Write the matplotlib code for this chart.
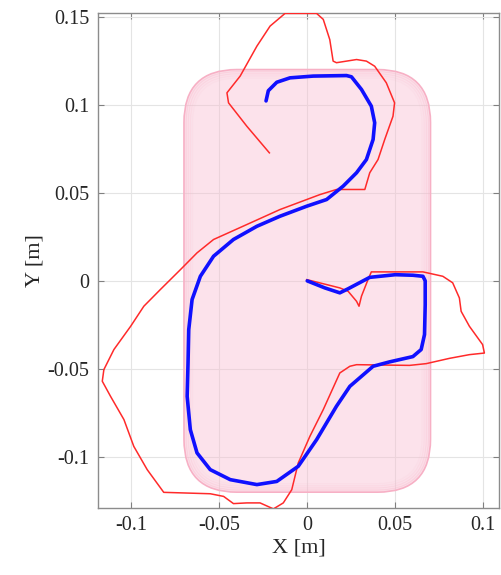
import matplotlib

matplotlib.use("Agg")

from matplotlib import patches
from matplotlib import pyplot as plt

# reachable area of the robot base (rounded rectangle, metres)
region_x = (-0.07, 0.07)
region_y = (-0.12, 0.12)
region_radius = 0.03

# commanded trajectory (blue)
blue_x = [-0.0234, -0.0221, -0.0173, -0.0098, 0.0034, 0.0223, 0.0251, 0.0308, 0.0364,
          0.0383, 0.0374, 0.0336, 0.0280, 0.0204, 0.0110, -0.0003, -0.0155, -0.0286,
          -0.0419, -0.0532, -0.0607, -0.0654, -0.0673, -0.0677, -0.0682, -0.0664,
          -0.0626, -0.0551, -0.0437, -0.0286, -0.0173, -0.0051, 0.0053, 0.0166,
          0.0242, 0.0374, 0.0468, 0.0600, 0.0647, 0.0666, 0.0670, 0.0670, 0.0657,
          0.0600, 0.0500, 0.0355, 0.0232, 0.0185, 0.0100, 0.0000]
blue_y = [0.1022, 0.1080, 0.1128, 0.1153, 0.1163, 0.1166, 0.1159, 0.1087, 0.0992,
          0.0898, 0.0803, 0.0689, 0.0614, 0.0538, 0.0462, 0.0424, 0.0367, 0.0310,
          0.0235, 0.0140, 0.0026, -0.0106, -0.0277, -0.0466, -0.0656, -0.0845,
          -0.0977, -0.1072, -0.1129, -0.1157, -0.1139, -0.1053, -0.0902, -0.0712,
          -0.0599, -0.0485, -0.0460, -0.0430, -0.0390, -0.0305, -0.0135, 0.0000,
          0.0026, 0.0032, 0.0035, 0.0020, -0.0045, -0.0068, -0.0040, 0.0000]

# measured trajectory (red)
red_x = [-0.0215, -0.0343, -0.0447, -0.0456, -0.0381, -0.0286, -0.0211, -0.0126, 0.0053,
         0.0091, 0.0128, 0.0147, 0.0166, 0.0280, 0.0336, 0.0383, 0.0449, 0.0496, 0.0487,
         0.0440, 0.0402, 0.0355, 0.0327, 0.0166, 0.0072, -0.0155, -0.0343, -0.0532,
         -0.0626, -0.0720, -0.0834, -0.0928, -0.1003, -0.1098, -0.1155, -0.1164,
         -0.1117, -0.1041, -0.0985, -0.0909, -0.0815, -0.0551, -0.0475, -0.0419,
         -0.0343, -0.0268, -0.0192, -0.0136, -0.0088, -0.0051, 0.0015, 0.0091, 0.0185,
         0.0242, 0.0280, 0.0581, 0.0676, 0.0808, 0.0921, 0.1006, 0.0996, 0.0921, 0.0874,
         0.0864, 0.0826, 0.0770, 0.0657, 0.0364, 0.0345, 0.0308, 0.0294, 0.0280, 0.0232,
         0.0185, 0.0034, -0.0003]
red_y = [0.0727, 0.0878, 0.1011, 0.1068, 0.1163, 0.1333, 0.1447, 0.1519, 0.1519,
         0.1485, 0.1370, 0.1248, 0.1239, 0.1257, 0.1248, 0.1219, 0.1125, 0.1011, 0.0935,
         0.0803, 0.0689, 0.0614, 0.0519, 0.0519, 0.0490, 0.0405, 0.0320, 0.0235,
         0.0159, 0.0064, -0.0049, -0.0144, -0.0258, -0.0390, -0.0504, -0.0570,
         -0.0656, -0.0788, -0.0940, -0.1072, -0.1201, -0.1209, -0.1224, -0.1265,
         -0.1261, -0.1261, -0.1295, -0.1261, -0.1186, -0.1034, -0.0883, -0.0731, -0.0523,
         -0.0485, -0.0476, -0.0480, -0.0470, -0.0440, -0.0419, -0.0410, -0.0362, -0.0258,
         -0.0173, -0.0097, -0.0011, 0.0026, 0.0051, 0.0051, 0.0007, -0.0087, -0.0144,
         -0.0116, -0.0059, -0.0040, -0.0002, 0.0007]

x_ticks = [-0.1, -0.05, 0, 0.05, 0.1]
y_ticks = [-0.1, -0.05, 0, 0.05, 0.1, 0.15]

plt.rcParams["font.family"] = ["Liberation Serif", "DejaVu Serif"]
plt.rcParams["axes.unicode_minus"] = False

fig = plt.figure(figsize=(5.02, 5.75), dpi=100)
fig.set_facecolor("w")
ax = fig.add_axes([0.193, 0.1165, 0.803, 0.8605])


def region_box(pad, **kw):
    w = region_x[1] - region_x[0]
    h = region_y[1] - region_y[0]
    return patches.FancyBboxPatch(
        (region_x[0] + region_radius, region_y[0] + region_radius),
        w - 2 * region_radius,
        h - 2 * region_radius,
        boxstyle=f"round,pad={pad}",
        zorder=1,
        **kw,
    )


# translucent fill so the grid still shows, thin rings for the soft rim
ax.add_patch(region_box(region_radius, facecolor="#f9bcd0", alpha=0.42, edgecolor="none"))
ax.add_patch(region_box(region_radius, facecolor="none", edgecolor="#f7b0c5", lw=1.2))
for k in range(1, 5):
    ax.add_patch(region_box(region_radius - 0.0012 * k, facecolor="none",
                            edgecolor="#f8b4c8", lw=1.0, alpha=0.45 - 0.09 * k))

ax.plot(red_x, red_y, color="#ff2a2a", lw=1.1, zorder=3)
ax.plot(blue_x, blue_y, color="#1010ff", lw=2.6, zorder=4,
        solid_joinstyle="round", solid_capstyle="round")

ax.set_xlim(-0.119, 0.109)
ax.set_ylim(-0.129, 0.152)
ax.set_aspect("equal", adjustable="box")

ax.set_xticks(x_ticks)
ax.set_xticklabels(["-0.1", "-0.05", "0", "0.05", "0.1"])
ax.set_yticks(y_ticks)
ax.set_yticklabels(["-0.1", "-0.05", "0", "0.05", "0.1", "0.15"])
ax.tick_params(direction="in", length=4, width=0.8, colors="#808080",
               labelcolor="#262626", labelsize=14.5, top=True, right=True, pad=6)
ax.grid(True, color="#e4e4e4", lw=0.8, zorder=0)
ax.set_axisbelow(True)
for s in ax.spines.values():
    s.set_color("#8c8c8c")
    s.set_linewidth(1.0)

ax.set_xlabel("X [m]", fontsize=16, color="#262626", labelpad=2)
ax.set_ylabel("Y [m]", fontsize=16, color="#262626", labelpad=2)

fig.savefig("out.png", dpi=100)
plt.close(fig)
